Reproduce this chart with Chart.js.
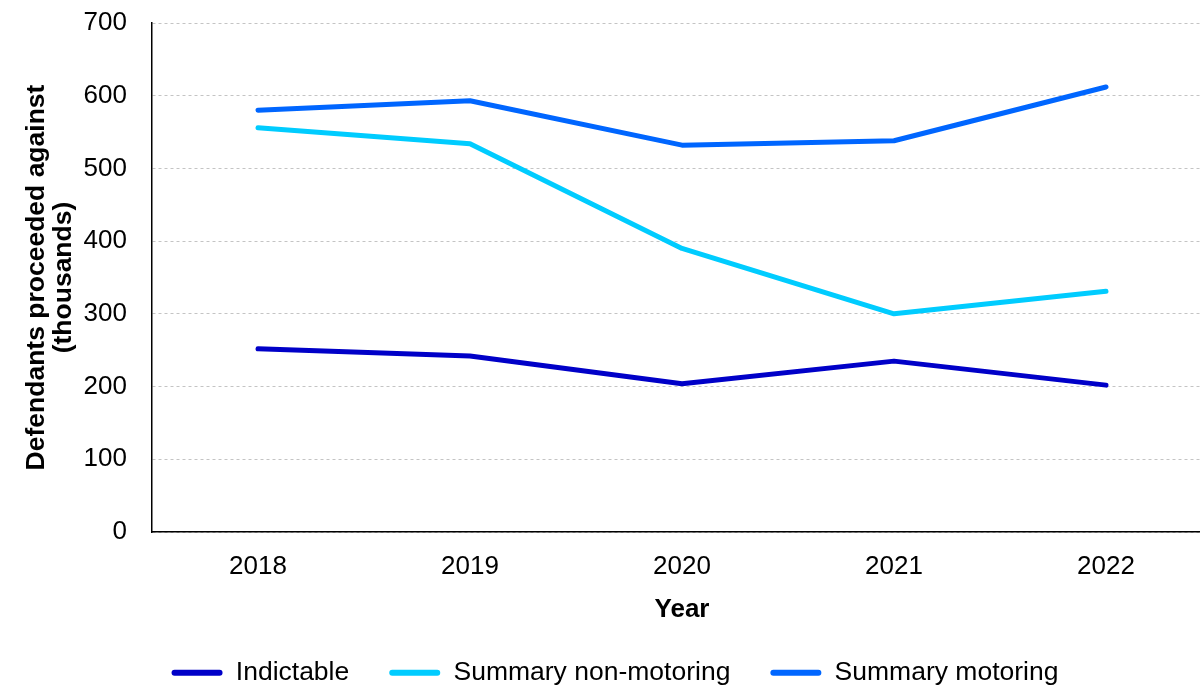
<!DOCTYPE html>
<html>
<head>
<meta charset="utf-8">
<script src="https://cdn.jsdelivr.net/npm/chart.js@4"></script>
<style>
  html, body { margin: 0; padding: 0; background: #fff; overflow: hidden; }
  #wrap { width: 1200px; height: 685px; overflow: hidden; position: relative; }
  #chart { position: absolute; left: 0; top: 0; }
</style>
</head>
<body>
<div id="wrap">
  <canvas id="chart" width="1220" height="696"></canvas>
</div>
<script>
/* Defendants proceeded against, by offence type, 2018-2022 (thousands) */

const years       = ['2018', '2019', '2020', '2021', '2022'];
const indictable  = [252, 242, 204, 235, 202];
const nonMotoring = [556, 534, 390, 300, 331];
const motoring    = [580, 593, 532, 538, 612];

const COLORS = {
  indictable:  '#0000c8',
  nonMotoring: '#00ccff',
  motoring:    '#0066ff'
};

const FONT = 'Liberation Sans, Arial, Helvetica, sans-serif';
Chart.defaults.font.family = FONT;
Chart.defaults.font.size = 26;
Chart.defaults.color = '#000';

function series(label, data, color) {
  return {
    label,
    data,
    borderColor: color,
    backgroundColor: color,
    borderWidth: 5,
    borderCapStyle: 'round',
    borderJoinStyle: 'round',
    pointRadius: 0,
    pointHoverRadius: 0,
    tension: 0,
    fill: false
  };
}

// legend swatches: plain rounded bars, no outline
function legendLabels(chart) {
  return Chart.defaults.plugins.legend.labels.generateLabels(chart)
    .map(item => Object.assign(item, { lineWidth: 0 }));
}

new Chart(document.getElementById('chart'), {
  type: 'line',
  data: {
    labels: years,
    datasets: [
      series('Indictable', indictable, COLORS.indictable),
      series('Summary non-motoring', nonMotoring, COLORS.nonMotoring),
      series('Summary motoring', motoring, COLORS.motoring)
    ]
  },
  options: {
    responsive: false,
    animation: false,
    layout: { padding: { top: 23, right: 8, left: 18, bottom: 0 } },
    plugins: {
      tooltip: { enabled: false },
      legend: {
        position: 'bottom',
        labels: {
          generateLabels: legendLabels,
          boxWidth: 51,
          boxHeight: 6,
          useBorderRadius: true,
          borderRadius: 3,
          padding: 40,
          font: { size: 26.5 },
          color: '#000'
        }
      }
    },
    scales: {
      x: {
        offset: true,
        grid: { display: false, drawTicks: false },
        border: { display: true, color: '#000', width: 1.5 },
        ticks: { padding: 19, font: { size: 26 } },
        title: {
          display: true,
          text: 'Year',
          font: { size: 26, weight: 'bold' },
          padding: { top: 0, bottom: -6 }
        },
        afterFit: s => { s.height = 87.5; }
      },
      y: {
        min: 0,
        max: 700,
        ticks: { stepSize: 100, padding: 25, font: { size: 26 } },
        grid: { color: '#c4c4c4', lineWidth: 1, drawTicks: false },
        border: { display: true, color: '#000', width: 1.5, dash: [3, 3] },
        title: {
          display: true,
          text: ['Defendants proceeded against', '(thousands)'],
          font: { size: 26.5, weight: 'bold', lineHeight: 1.03 },
          padding: { top: 5, bottom: 0 }
        },
        afterFit: s => {
          s.width = 134;
          s.paddingTop = 10;
        }
      }
    }
  }
});
</script>
</body>
</html>
